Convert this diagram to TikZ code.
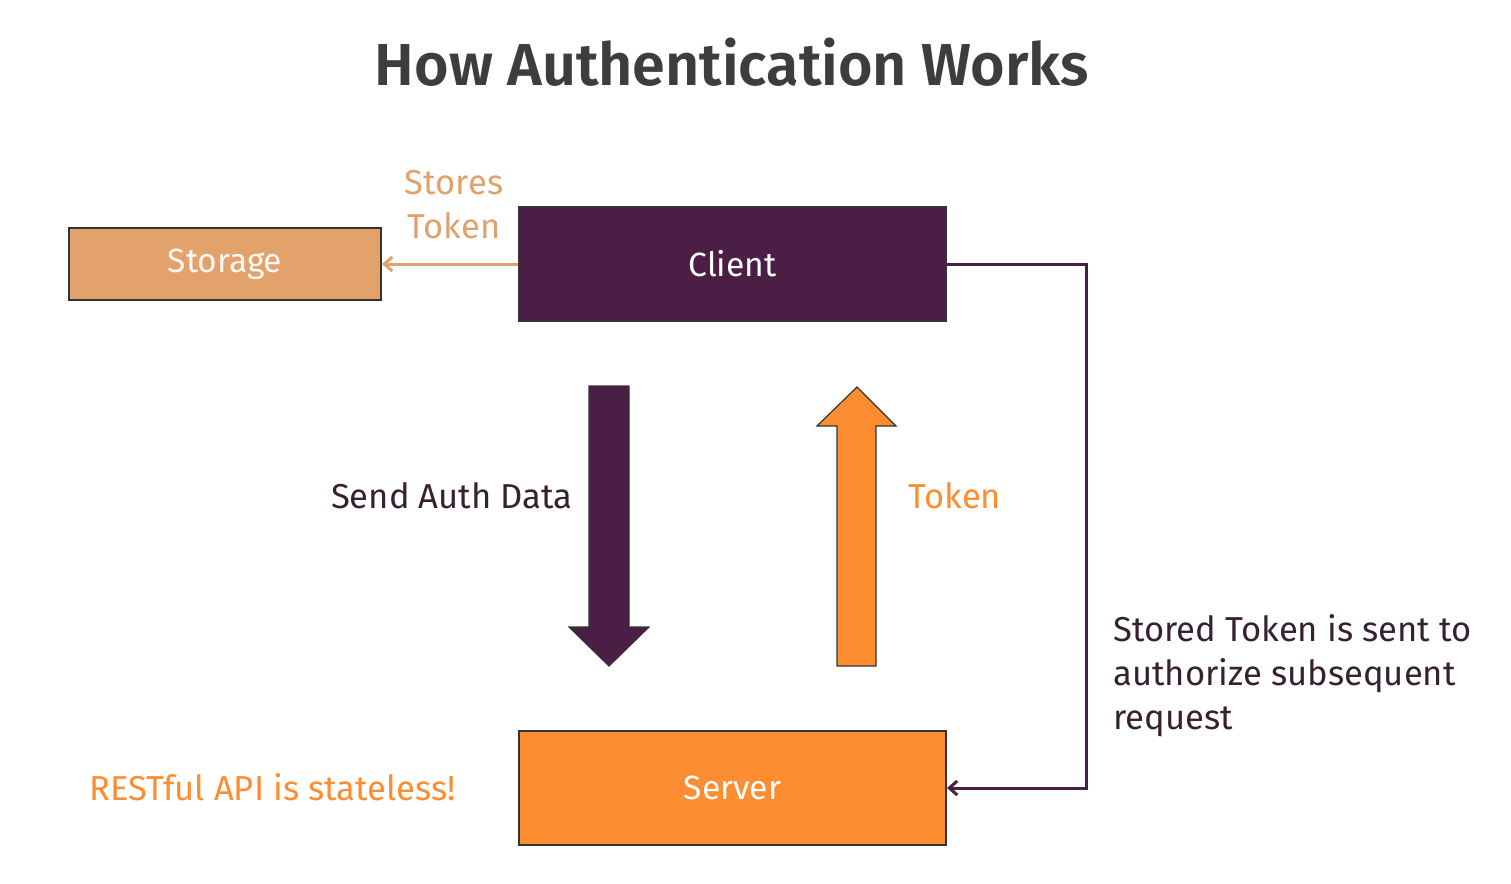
\documentclass[tikz,border=0pt]{standalone}
\usepackage{fontspec}
\setmainfont{Fira Sans}[BoldFont={Fira Sans SemiBold}]
\usetikzlibrary{arrows.meta,shapes.arrows}
\definecolor{purp}{HTML}{4A1E45}
\definecolor{orng}{HTML}{FD8D31}
\definecolor{stor}{HTML}{E3A26B}
\definecolor{storline}{HTML}{E0A16D}
\definecolor{titlec}{HTML}{3D3D3D}
\definecolor{darktxt}{HTML}{35212F}
\definecolor{edge}{HTML}{333333}
\begin{document}
\begin{tikzpicture}[x=0.5pt,y=-0.5pt,
  box/.style={draw=edge,line width=1pt,inner sep=0pt,font=\fontsize{16.8}{19}\selectfont},
  lbl/.style={inner sep=0pt,font=\fontsize{17.3}{22}\selectfont},
  conn/.style={line width=1.5pt}]
\useasboundingbox (0,0) rectangle (1511,884);
\node[font=\bfseries\fontsize{29.6}{34}\selectfont,text=titlec] (title) at (732,62) {How Authentication Works};
\node[box,fill=stor,text=white!92!stor,minimum width=156pt,minimum height=36pt] (storage) at (225,264) {Storage};
\node[box,fill=purp,text=white,minimum width=213.5pt,minimum height=57pt] (client) at (732.5,264) {Client};
\node[box,fill=orng,text=white,minimum width=213.5pt,minimum height=57pt] (server) at (732.5,788) {Server};
\draw[conn,storline,-{Straight Barb[length=4pt,width=7pt]}] (client.west) -- (storage.east);
\node[lbl,text=storline,align=center] (stlbl) at (454,205) {Stores\\Token};
\coordinate (c1) at (1086,264);
\coordinate (c2) at (1086,788);
\draw[conn,purp,-{Straight Barb[length=4pt,width=7pt]}] (client.east) -- (c1) -- (c2) -- (server.east);
% block arrows
\draw[draw=edge,line width=0.6pt,fill=purp] (589,386) -- (629,386) -- (629,627) -- (649,627) -- (609,666) -- (569,627) -- (589,627) -- cycle;
\coordinate (downarr) at (609,526);
\draw[draw=edge,line width=0.6pt,fill=orng] (837,666) -- (876,666) -- (876,426) -- (896,426) -- (857,387) -- (817,426) -- (837,426) -- cycle;
\coordinate (uparr) at (857,526);
\node[lbl,text=darktxt,anchor=east] (send) at (573,496) {Send Auth Data};
\node[lbl,text=orng,anchor=west] (tok) at (908,496) {Token};
\node[lbl,text=darktxt,anchor=north west,align=left] (stored) at (1113,614) {Stored Token is sent to\\authorize subsequent\\request};
\node[lbl,text=orng,anchor=west] (rest) at (89,787) {RESTful API is stateless!};
\end{tikzpicture}
\end{document}
